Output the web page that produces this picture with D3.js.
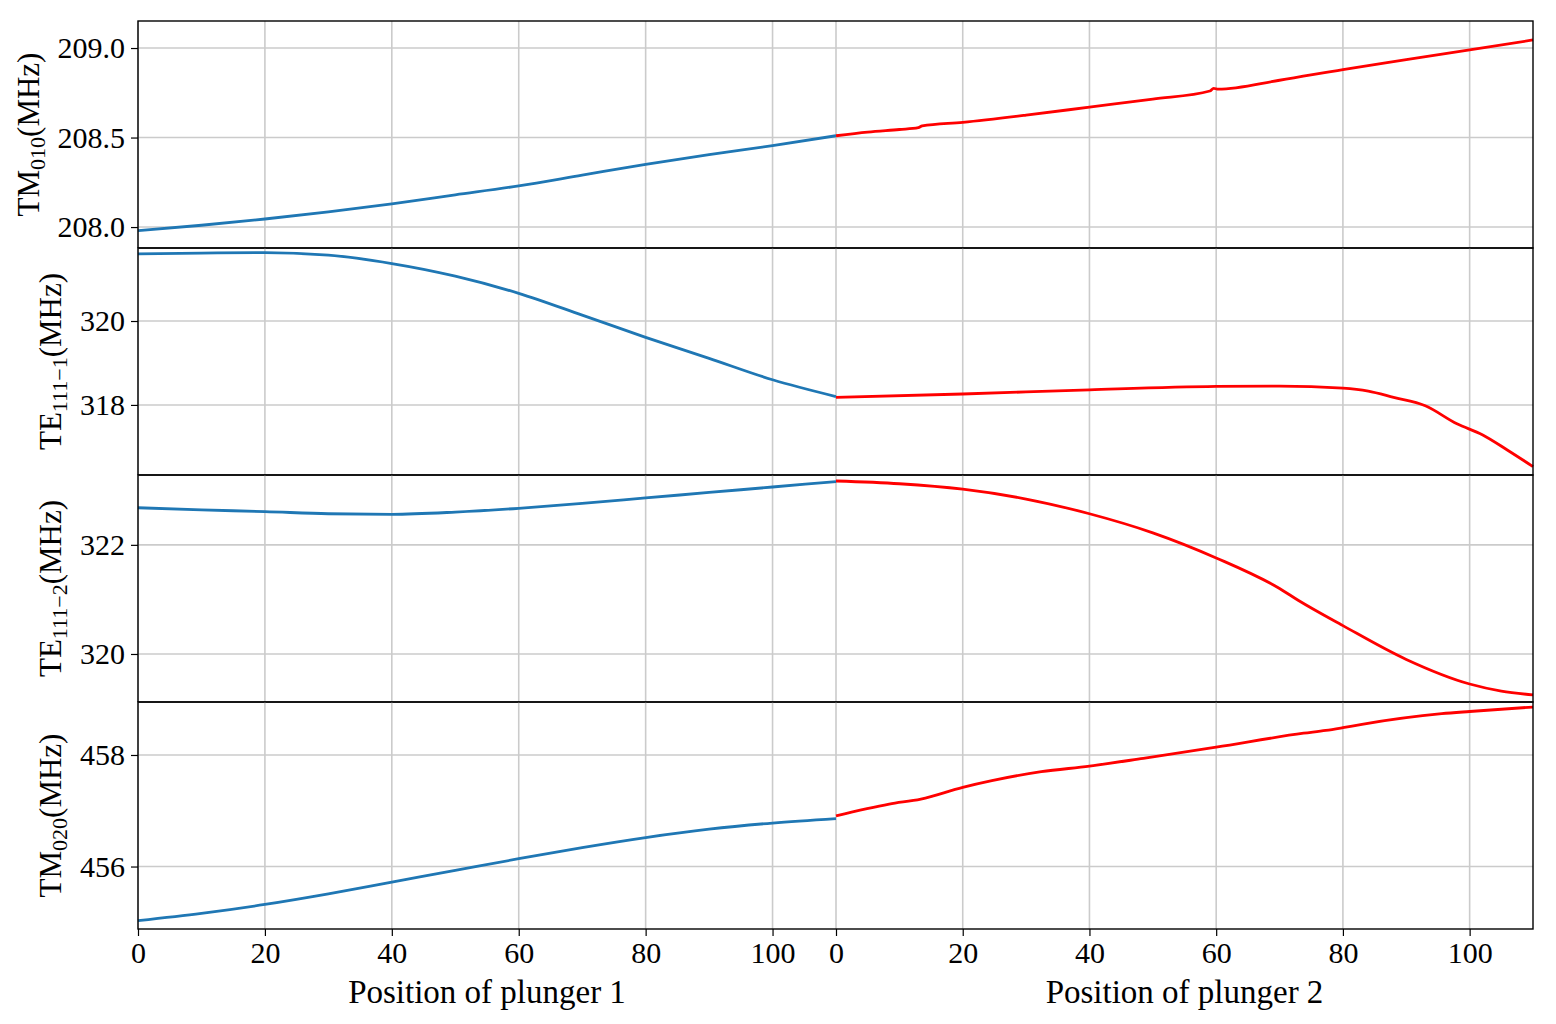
<!DOCTYPE html>
<html>
<head>
<meta charset="utf-8">
<script src="https://cdn.jsdelivr.net/npm/d3@7"></script>
<style>
  body { margin: 0; background: #fff; }
  text { font-family: 'Liberation Serif', 'DejaVu Serif', serif; }
</style>
</head>
<body>
<div id="graf"></div>
<script>
// I. Datos
// posiciones del émbolo
pos1_tm010 = [0, 10, 20, 30, 40, 50, 60, 70, 80, 90, 100, 110]
val1_tm010 = [207.98, 208.01, 208.045, 208.085, 208.13, 208.18, 208.23, 208.29, 208.35, 208.405, 208.455, 208.51]
pos2_tm010 = [0, 5, 10, 13, 13.6, 20, 30, 40, 50, 59, 59.6, 60.3, 70, 80, 90, 100, 110]
val2_tm010 = [208.51, 208.53, 208.545, 208.555, 208.565, 208.585, 208.625, 208.67, 208.715, 208.76, 208.775, 208.77, 208.82, 208.88, 208.935, 208.99, 209.045]

pos1_te1 = [0, 10, 20, 30, 40, 50, 60, 70, 80, 90, 100, 110]
val1_te1 = [321.60, 321.62, 321.63, 321.57, 321.37, 321.07, 320.66, 320.14, 319.61, 319.11, 318.60, 318.20]
pos2_te1 = [0, 20, 40, 60, 70, 80, 84, 88, 93, 98, 102, 106, 110]
val2_te1 = [318.18, 318.26, 318.36, 318.44, 318.45, 318.40, 318.33, 318.18, 317.98, 317.55, 317.29, 316.92, 316.53]

pos1_te2 = [0, 10, 20, 30, 40, 50, 60, 70, 80, 90, 100, 110]
val1_te2 = [322.68, 322.64, 322.61, 322.57, 322.56, 322.6, 322.67, 322.76, 322.86, 322.96, 323.06, 323.16]
pos2_te2 = [0, 10, 20, 30, 40, 50, 60, 70, 73, 80, 90, 100, 105, 110]
val2_te2 = [323.17, 323.12, 323.02, 322.84, 322.57, 322.22, 321.76, 321.20, 320.98, 320.52, 319.90, 319.45, 319.32, 319.25]

pos1_tm020 = [0, 10, 20, 30, 40, 50, 60, 70, 80, 90, 100, 110]
val1_tm020 = [455.03, 455.16, 455.32, 455.51, 455.72, 455.93, 456.14, 456.34, 456.52, 456.67, 456.78, 456.86]
pos2_tm020 = [0, 8.4, 13.4, 20, 24.6, 32.4, 40, 48.5, 60, 73.8, 77.3, 80, 83, 95.6, 100, 110]
val2_tm020 = [456.91, 457.12, 457.21, 457.42, 457.54, 457.70, 457.80, 457.94, 458.14, 458.39, 458.44, 458.49, 458.55, 458.74, 458.78, 458.86]

xticks = [0, 20, 40, 60, 80, 100]

paneles = [
  { nombre: 'TM', sub: '010', dominio: [207.883, 209.151], ticks: [208.0, 208.5, 209.0], fmt: '.1f',
    p1: pos1_tm010, v1: val1_tm010, p2: pos2_tm010, v2: val2_tm010 },
  { nombre: 'TE', sub: '111−1', dominio: [316.33, 321.74], ticks: [318, 320], fmt: 'd',
    p1: pos1_te1, v1: val1_te1, p2: pos2_te1, v2: val2_te1 },
  { nombre: 'TE', sub: '111−2', dominio: [319.12, 323.28], ticks: [320, 322], fmt: 'd',
    p1: pos1_te2, v1: val1_te2, p2: pos2_te2, v2: val2_te2 },
  { nombre: 'TM', sub: '020', dominio: [454.88, 458.95], ticks: [456, 458], fmt: 'd',
    p1: pos1_tm020, v1: val1_tm020, p2: pos2_tm020, v2: val2_tm020 }
]

// II. Configuración
ancho_total = 1556
alto_total = 1024
izq = 138
der = 1533
medio = 836
arriba = 21
alto_panel = 227

svg = d3.select('#graf').append('svg')
  .attr('width', ancho_total)
  .attr('height', alto_total)

x1 = d3.scaleLinear().domain([0, 110]).range([izq, medio])
x2 = d3.scaleLinear().domain([0, 110]).range([medio, der])

// III. Paneles
paneles.forEach((p, i) => {
  top_p = arriba + i * alto_panel
  y = d3.scaleLinear().domain(p.dominio).range([top_p + alto_panel, top_p])

  g = svg.append('g')

  // rejilla vertical
  ;[x1, x2].forEach(x => {
    g.selectAll(null).data(xticks).enter().append('line')
      .attr('x1', d => x(d)).attr('x2', d => x(d))
      .attr('y1', top_p).attr('y2', top_p + alto_panel)
      .attr('stroke', '#cbcbcb').attr('stroke-width', 1.6)
  })
  // rejilla horizontal
  g.selectAll(null).data(p.ticks).enter().append('line')
    .attr('x1', izq).attr('x2', der)
    .attr('y1', d => y(d)).attr('y2', d => y(d))
    .attr('stroke', '#cbcbcb').attr('stroke-width', 1.6)

  // curvas
  linea1 = d3.line().x((d, k) => x1(p.p1[k])).y(d => y(d)).curve(d3.curveMonotoneX)
  linea2 = d3.line().x((d, k) => x2(p.p2[k])).y(d => y(d)).curve(d3.curveMonotoneX)
  g.append('path').attr('d', linea1(p.v1))
    .attr('fill', 'none').attr('stroke', '#1f77b4').attr('stroke-width', 2.8)
  g.append('path').attr('d', linea2(p.v2))
    .attr('fill', 'none').attr('stroke', '#ff0000').attr('stroke-width', 2.8)

  // eje y
  ejeY = g.append('g')
    .attr('transform', `translate(${izq},0)`)
    .call(d3.axisLeft(y).tickValues(p.ticks).tickFormat(d3.format(p.fmt)).tickSize(7).tickPadding(6))
  ejeY.select('.domain').remove()
  ejeY.selectAll('line').attr('stroke', '#000').attr('stroke-width', 1.2)
  ejeY.selectAll('text').attr('font-size', 30).attr('fill', '#000')
    .attr('font-family', "'Liberation Serif', serif")

  // marco
  g.append('rect')
    .attr('x', izq).attr('y', top_p)
    .attr('width', der - izq).attr('height', alto_panel)
    .attr('fill', 'none').attr('stroke', '#000').attr('stroke-width', 1.4)

  // etiqueta del eje y
  bb = ejeY.node().getBBox()
  etq = g.append('text')
    .attr('transform', `translate(${izq + bb.x - 19},${top_p + alto_panel / 2}) rotate(-90)`)
    .attr('text-anchor', 'middle')
    .attr('font-size', 31)
  etq.append('tspan').text(p.nombre)
  etq.append('tspan').text(p.sub).attr('font-size', 22).attr('dy', 6)
  etq.append('tspan').text('(MHz)').attr('dy', -6)
})

// IV. Eje x
base = arriba + 4 * alto_panel
;[x1, x2].forEach((x, k) => {
  ejeX = svg.append('g')
    .attr('transform', `translate(0,${base})`)
    .call(d3.axisBottom(x).tickValues(xticks).tickFormat(d3.format('d')).tickSize(7).tickPadding(6))
  ejeX.select('.domain').remove()
  ejeX.selectAll('line').attr('stroke', '#000').attr('stroke-width', 1.2)
  ejeX.selectAll('text').attr('font-size', 30).attr('fill', '#000')
    .attr('font-family', "'Liberation Serif', serif")

  svg.append('text')
    .attr('x', (x.range()[0] + x.range()[1]) / 2)
    .attr('y', 1003)
    .attr('text-anchor', 'middle')
    .attr('font-size', 33)
    .text('Position of plunger ' + (k + 1))
})
</script>
</body>
</html>
